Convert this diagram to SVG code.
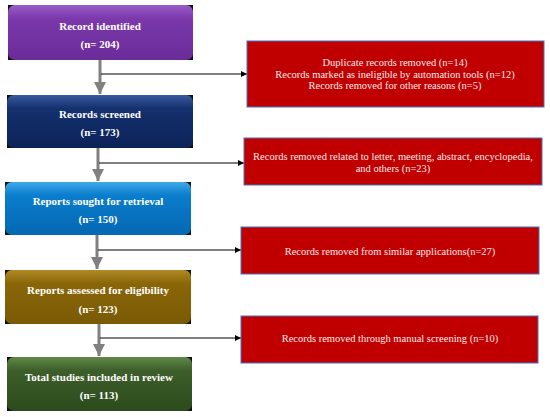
<svg xmlns="http://www.w3.org/2000/svg" width="550" height="417" viewBox="0 0 550 417">
<defs>
<linearGradient id="gP" x1="0" y1="0" x2="0" y2="1"><stop offset="0" stop-color="#9a5cc8"/><stop offset="0.25" stop-color="#7a38ab"/><stop offset="1" stop-color="#6a2c98"/></linearGradient>
<linearGradient id="gN" x1="0" y1="0" x2="0" y2="1"><stop offset="0" stop-color="#3a5a9e"/><stop offset="0.25" stop-color="#14306e"/><stop offset="1" stop-color="#0c2358"/></linearGradient>
<linearGradient id="gB" x1="0" y1="0" x2="0" y2="1"><stop offset="0" stop-color="#40a8ea"/><stop offset="0.25" stop-color="#0a7dcc"/><stop offset="1" stop-color="#0568b2"/></linearGradient>
<linearGradient id="gG" x1="0" y1="0" x2="0" y2="1"><stop offset="0" stop-color="#b08a25"/><stop offset="0.25" stop-color="#8a6608"/><stop offset="1" stop-color="#7a5a05"/></linearGradient>
<linearGradient id="gT" x1="0" y1="0" x2="0" y2="1"><stop offset="0" stop-color="#5f8a48"/><stop offset="0.25" stop-color="#3d5e2a"/><stop offset="1" stop-color="#2c4a1c"/></linearGradient>
<marker id="ah" viewBox="0 0 10 10" refX="10" refY="5" markerWidth="6" markerHeight="6" orient="auto" markerUnits="userSpaceOnUse"><path d="M0,0 L10,5 L0,10 z" fill="#000"/></marker>
<marker id="gh" viewBox="0 0 10 10" refX="10" refY="5" markerWidth="4" markerHeight="4" orient="auto"><path d="M0,0 L10,5 L0,10 z" fill="#808080"/></marker>
</defs>
<style>
.back{fill:#111}
.bt{font-family:"Liberation Serif",serif;font-weight:bold;font-size:11px;fill:#fff;text-anchor:middle}
.rb{fill:#c00000;stroke:#4472c4;stroke-width:1}
.rt{font-family:"Liberation Serif",serif;font-size:10.5px;fill:#fde8e8;text-anchor:middle}
.gv{stroke:#808080;stroke-width:3;fill:none}
.hz{stroke:#000;stroke-width:1;fill:none}
</style>
<g id="connectors">
<line class="gv" x1="100" y1="60" x2="100" y2="94" marker-end="url(#gh)"/>
<line class="gv" x1="98" y1="148" x2="98" y2="181" marker-end="url(#gh)"/>
<line class="gv" x1="97" y1="235" x2="97" y2="269" marker-end="url(#gh)"/>
<line class="gv" x1="99" y1="324" x2="99" y2="356" marker-end="url(#gh)"/>
<line class="hz" x1="101" y1="74" x2="247" y2="74" marker-end="url(#ah)"/>
<line class="hz" x1="99" y1="163" x2="244" y2="163" marker-end="url(#ah)"/>
<line class="hz" x1="98" y1="250" x2="241" y2="250" marker-end="url(#ah)"/>
<line class="hz" x1="100" y1="338" x2="241" y2="338" marker-end="url(#ah)"/>
</g>
<g id="n1">
<rect class="back" x="8" y="5" width="185" height="55"/>
<rect x="8" y="5" width="185" height="55" rx="7" fill="url(#gP)"/>
<text class="bt" x="100" y="30">Record identified</text>
<text class="bt" x="100" y="48">(n= 204)</text>
</g>
<g id="n2">
<rect class="back" x="7" y="95" width="186" height="53"/>
<rect x="7" y="95" width="186" height="53" rx="7" fill="url(#gN)"/>
<text class="bt" x="100" y="118">Records screened</text>
<text class="bt" x="100" y="136">(n= 173)</text>
</g>
<g id="n3">
<rect class="back" x="5" y="182" width="186" height="53"/>
<rect x="5" y="182" width="186" height="53" rx="7" fill="url(#gB)"/>
<text class="bt" x="98" y="205">Reports sought for retrieval</text>
<text class="bt" x="98" y="223">(n= 150)</text>
</g>
<g id="n4">
<rect class="back" x="5" y="270" width="186" height="54"/>
<rect x="5" y="270" width="186" height="54" rx="7" fill="url(#gG)"/>
<text class="bt" x="98" y="294">Reports assessed for eligibility</text>
<text class="bt" x="98" y="313">(n= 123)</text>
</g>
<g id="n5">
<rect class="back" x="7" y="357" width="185" height="54"/>
<rect x="7" y="357" width="185" height="54" rx="7" fill="url(#gT)"/>
<text class="bt" x="99" y="381">Total studies included in review</text>
<text class="bt" x="99" y="399">(n= 113)</text>
</g>
<g id="r1">
<rect class="rb" x="247" y="41" width="297" height="66"/>
<text class="rt" x="395" y="66">Duplicate records removed (n=14)</text>
<text class="rt" x="395" y="78">Records marked as ineligible by automation tools (n=12)</text>
<text class="rt" x="395" y="89">Records removed for other reasons (n=5)</text>
</g>
<g id="r2">
<rect class="rb" x="244" y="138" width="298" height="47"/>
<text class="rt" x="393" y="160">Records removed related to letter, meeting, abstract, encyclopedia,</text>
<text class="rt" x="393" y="172">and others (n=23)</text>
</g>
<g id="r3">
<rect class="rb" x="241" y="227" width="298" height="47"/>
<text class="rt" x="390" y="255">Records removed from similar applications(n=27)</text>
</g>
<g id="r4">
<rect class="rb" x="241" y="316" width="297" height="47"/>
<text class="rt" x="390" y="342">Records removed through manual screening (n=10)</text>
</g>
</svg>
